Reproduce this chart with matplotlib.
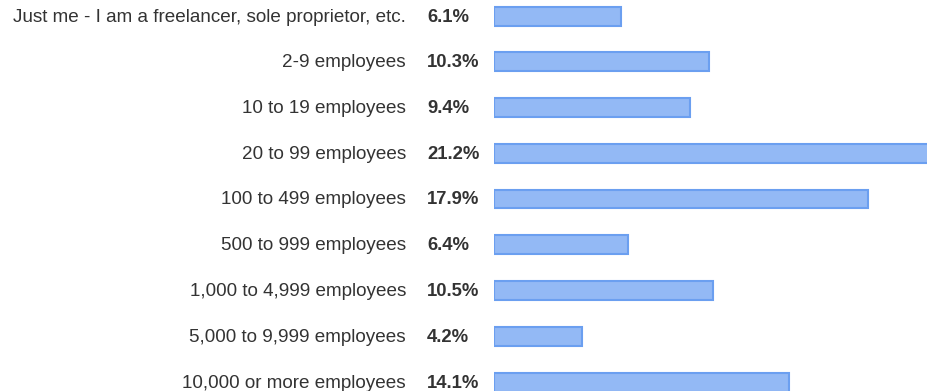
import numpy as np
import matplotlib.pyplot as plt

# company size breakdown
categories = [
    "Just me - I am a freelancer, sole proprietor, etc.",
    "2-9 employees",
    "10 to 19 employees",
    "20 to 99 employees",
    "100 to 499 employees",
    "500 to 999 employees",
    "1,000 to 4,999 employees",
    "5,000 to 9,999 employees",
    "10,000 or more employees",
]
shares = [6.1, 10.3, 9.4, 21.2, 17.9, 6.4, 10.5, 4.2, 14.1]

plt.rcParams['font.family'] = ['Liberation Sans', 'DejaVu Sans']

W, H = 927, 391
fig = plt.figure(figsize=(W / 100, H / 100), dpi=100)
x0 = 494
ax = fig.add_axes([x0 / W, 0, 1 - x0 / W, 1])

px_per_pct = 20.9
row = 45.75
top = 16

y = np.arange(len(categories))
ax.barh(y, shares, height=19 / row, color='#93b9f5', edgecolor='#6b9ff0',
        linewidth=1.5)
ax.set_xlim(0, (W - x0) / px_per_pct)
ax.set_ylim((H - top) / row, -top / row)
ax.axis('off')

for i, (cat, v) in enumerate(zip(categories, shares)):
    ax.annotate(f"{v}%", xy=(0, i), xytext=(-67, -1), textcoords='offset pixels',
                ha='left', va='center', fontsize=13.3, fontweight='bold',
                color='#333333', annotation_clip=False)
    ax.annotate(cat, xy=(0, i), xytext=(-88, -1), textcoords='offset pixels',
                ha='right', va='center', fontsize=13.6, color='#333333',
                annotation_clip=False)

fig.savefig('out.png', dpi=100)
